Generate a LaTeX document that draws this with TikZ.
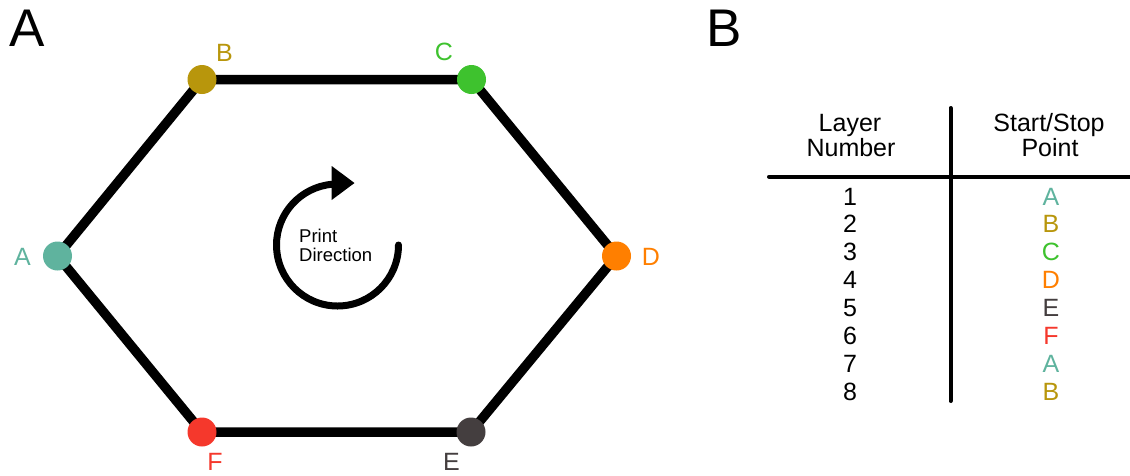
\documentclass[tikz,border=0pt]{standalone}
\usepackage{fontspec}
\setmainfont{Liberation Sans}
\usetikzlibrary{calc}
\definecolor{ptA}{HTML}{5FB39E}
\definecolor{ptB}{HTML}{B8960C}
\definecolor{ptC}{HTML}{3EC22E}
\definecolor{ptD}{HTML}{FF7F00}
\definecolor{ptE}{HTML}{443E3F}
\definecolor{ptF}{HTML}{F5382C}

\begin{document}
\begin{tikzpicture}[x=1pt,y=-1pt,
    dot/.style={circle,inner sep=0pt,minimum size=29pt},
    lbl/.style={font=\fontsize{25}{27}\selectfont,anchor=base,inner sep=0pt},
    small/.style={font=\fontsize{18.5}{20}\selectfont,anchor=base west,inner sep=0pt},
    panel/.style={font=\fontsize{53}{56}\selectfont,anchor=base,inner sep=0pt},
    rule/.style={line width=4pt,line cap=round}]
  \useasboundingbox (0,0) rectangle (1130,475);
  % panel letters
  \node[panel] (panA) at (27,46.7) {A};
  \node[panel] (panB) at (724,46.7) {B};
  % hexagon path, corners are the start/stop points
  \coordinate (cA) at (57.5,256);
  \coordinate (cB) at (202,79.5);
  \coordinate (cC) at (471.5,79.5);
  \coordinate (cD) at (616.5,256);
  \coordinate (cE) at (471,432);
  \coordinate (cF) at (202,432);
  \draw[line width=9.5pt,line join=round] (cA) -- (cB) -- (cC) -- (cD) -- (cE) -- (cF) -- cycle;
  \foreach \pnt/\xl/\yl in {A/22.5/265, B/224.5/61, C/444/60,
                            D/651/265, E/451.5/470, F/215/470}{
    \node[dot,fill=pt\pnt] (d\pnt) at (c\pnt) {};
    \node[lbl,text=pt\pnt] (l\pnt) at (\xl,\yl) {\pnt};
  }
  % print direction (clockwise)
  \coordinate (rot) at (337.5,245);
  \draw[line width=7pt,line cap=round] ($(rot)+(61,0)$) arc[start angle=0,end angle=265,radius=61];
  \fill (331.7,166) -- (354.5,183) -- (331.7,200) -- cycle;
  \node[small] (prt) at (299,242) {Print};
  \node[small] (dirn) at (299,261.5) {Direction};
  % layer table
  \coordinate (vtop) at (950.5,108);
  \coordinate (vbot) at (950.5,401);
  \coordinate (hl) at (769,176.7);
  \coordinate (hr) at (1132,176.7);
  \draw[rule] (vtop) -- (vbot);
  \draw[rule] (hl) -- (hr);
  \node[lbl] (hLayer) at (850,131.7) {Layer};
  \node[lbl] (hNum) at (851,156.7) {Number};
  \node[lbl] (hStart) at (1049,131.7) {Start/Stop};
  \node[lbl] (hPoint) at (1050,156.7) {Point};
  \foreach \pnt [count=\i] in {A,B,C,D,E,F,A,B}{
    \node[lbl] (n\i) at (850,{205+27.86*(\i-1)}) {\i};
    \node[lbl,text=pt\pnt] (s\i) at (1051,{205+27.86*(\i-1)}) {\pnt};
  }
\end{tikzpicture}
\end{document}
